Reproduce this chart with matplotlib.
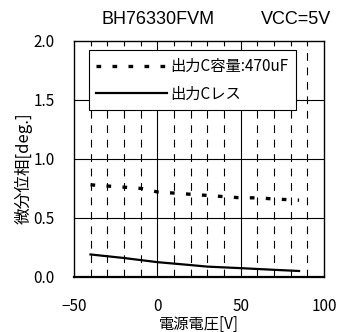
import numpy as np
import matplotlib.pyplot as plt

plt.rcParams['font.family'] = ['Noto Sans CJK JP', 'DejaVu Sans']

# data
temp_470 = [-40, -30, -20, -10, 0, 10, 20, 30, 40, 50, 60, 70, 85]
phase_470 = [0.78, 0.77, 0.76, 0.75, 0.72, 0.71, 0.70, 0.69, 0.68, 0.67, 0.67, 0.66, 0.65]
temp_less = [-40, -20, 0, 20, 30, 50, 70, 85]
phase_less = [0.19, 0.16, 0.125, 0.10, 0.087, 0.074, 0.06, 0.05]

label_470 = '出力C容量:470uF'
label_less = '出力Cレス'

fig = plt.figure(figsize=(3.55, 3.32), dpi=100)
ax = fig.add_axes([0.208, 0.166, 0.705, 0.711])

# grid
for x in range(-40, 100, 10):
    if x in (0, 50):
        ax.axvline(x, color='black', lw=0.8, zorder=1)
    else:
        ax.axvline(x, color='black', lw=0.8, dashes=(7, 6), zorder=1)
for y in (0.5, 1.0, 1.5):
    ax.axhline(y, color='black', lw=0.8, zorder=1)

ax.plot(temp_470, phase_470, color='black', lw=2.4, dashes=(1.4, 3.4),
        label=label_470, zorder=3)
ax.plot(temp_less, phase_less, color='black', lw=1.6, label=label_less, zorder=3)

ax.set_xlim(-50, 100)
ax.set_ylim(0, 2.0)
ax.set_xticks([-50, 0, 50, 100])
ax.set_yticks([0, 0.5, 1.0, 1.5, 2.0])
ax.set_yticklabels(['0.0', '0.5', '1.0', '1.5', '2.0'])
ax.tick_params(length=0, labelsize=11)
ax.tick_params(axis='x', pad=15)
ax.tick_params(axis='y', pad=14)
for s in ax.spines.values():
    s.set_linewidth(1.0)
ax.spines['bottom'].set_linewidth(1.6)

ax.set_xlabel('電源電圧[V]', fontsize=11, labelpad=1)
ax.set_ylabel('微分位相[deg.]', fontsize=12)
ax.yaxis.set_label_coords(-0.165, 0.46)

fig.text(0.445, 0.94, 'BH76330FVM', fontsize=13, ha='center', va='center',
         family='Liberation Sans')
fig.text(0.835, 0.94, 'VCC=5V', fontsize=13, ha='center', va='center',
         family='Liberation Sans')

leg = ax.legend(loc='upper left', bbox_to_anchor=(0.06, 0.96), fontsize=11,
                handlelength=4.6, handletextpad=0.2, fancybox=False,
                framealpha=1, edgecolor='black', borderpad=0.5,
                labelspacing=0.7, borderaxespad=0)
leg.get_frame().set_linewidth(0.8)
leg.set_zorder(5)

fig.savefig('out.png', dpi=100)
